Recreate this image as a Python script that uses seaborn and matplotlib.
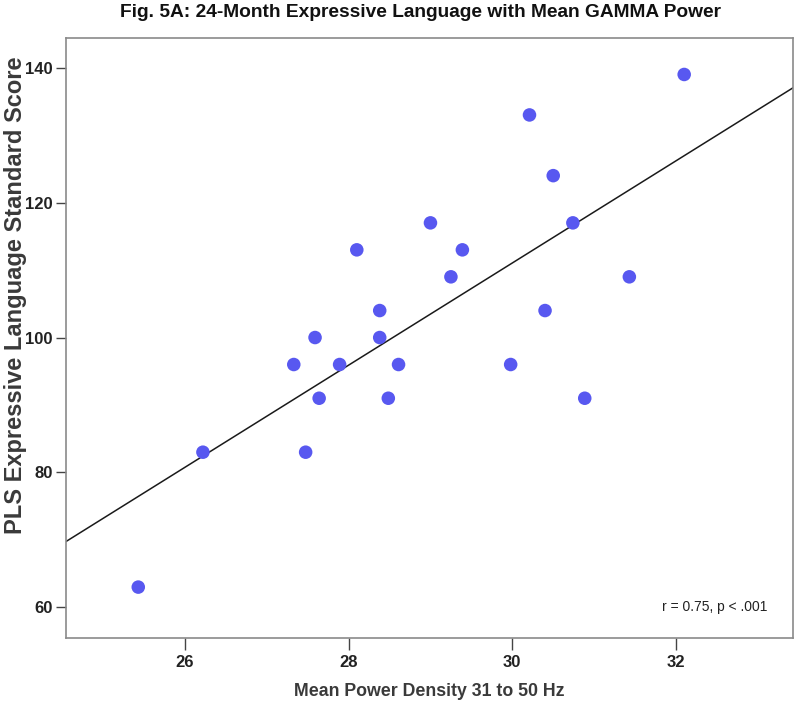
import matplotlib
matplotlib.use("Agg")
import matplotlib.pyplot as plt
import seaborn as sns
import pandas as pd

# Data
power = [32.10, 30.21, 30.50, 29.00, 30.74, 28.10, 29.39, 29.25, 31.43, 28.38,
         30.40, 27.59, 28.38, 27.33, 27.89, 28.61, 29.98, 27.64, 28.485, 30.885,
         26.22, 27.475, 25.43]
score = [139, 133, 124, 117, 117, 113, 113, 109, 109, 104,
         104, 100, 100, 96, 96, 96, 96, 91, 91, 91,
         83, 83, 63]
x_ticks = [26, 28, 30, 32]
y_ticks = [60, 80, 100, 120, 140]

df = pd.DataFrame({"power": power, "score": score})

sns.set_style("white")
plt.rcParams["font.family"] = ["Liberation Sans", "DejaVu Sans"]

fig = plt.figure(figsize=(8.0, 7.03), dpi=100)
ax = fig.add_axes([0.0825, 0.0929, 0.9091, 0.8526])

# limits first so the fit line spans the whole axis
ax.set_xlim(24.547, 33.433)
ax.set_ylim(55.5, 144.36)

sns.regplot(data=df, x="power", y="score", ax=ax, ci=None, truncate=False,
            scatter_kws=dict(s=95, color="#5858f0", edgecolor="none", alpha=1, zorder=3),
            line_kws=dict(color="#1a1a1a", lw=1.1, zorder=2))

ax.set_xlim(24.547, 33.433)
ax.set_ylim(55.5, 144.36)
ax.set_xticks(x_ticks)
ax.set_yticks(y_ticks)

for s in ax.spines.values():
    s.set_color("#8a8a8a")
    s.set_linewidth(1.2)

ax.tick_params(axis="both", which="major", direction="out", width=1,
               color="#444444", labelsize=12, labelcolor="#222222",
               bottom=True, left=True)
ax.tick_params(axis="y", length=7.5, pad=2)
ax.tick_params(axis="x", length=8.5, pad=4)
for lbl in ax.get_xticklabels() + ax.get_yticklabels():
    lbl.set_fontweight("bold")

ax.set_xlabel("Mean Power Density 31 to 50 Hz", fontsize=12.8, fontweight="bold",
              color="#3a3a3a", labelpad=9)
ax.set_ylabel("")
fig.text(16 / 800, 1 - 295 / 703, "PLS Expressive Language Standard Score",
         rotation=90, ha="center", va="center", fontsize=17, fontweight="bold",
         color="#3a3a3a")

ax.text(0.964, 0.051, "r = 0.75, p < .001", transform=ax.transAxes,
        ha="right", va="center", fontsize=10, color="#222222")

fig.text(0.525, 0.982, "Fig. 5A: 24-Month Expressive Language with Mean GAMMA Power",
         ha="center", va="center", fontsize=13.8, fontweight="bold", color="#111111")

fig.savefig("out.png", dpi=100)
